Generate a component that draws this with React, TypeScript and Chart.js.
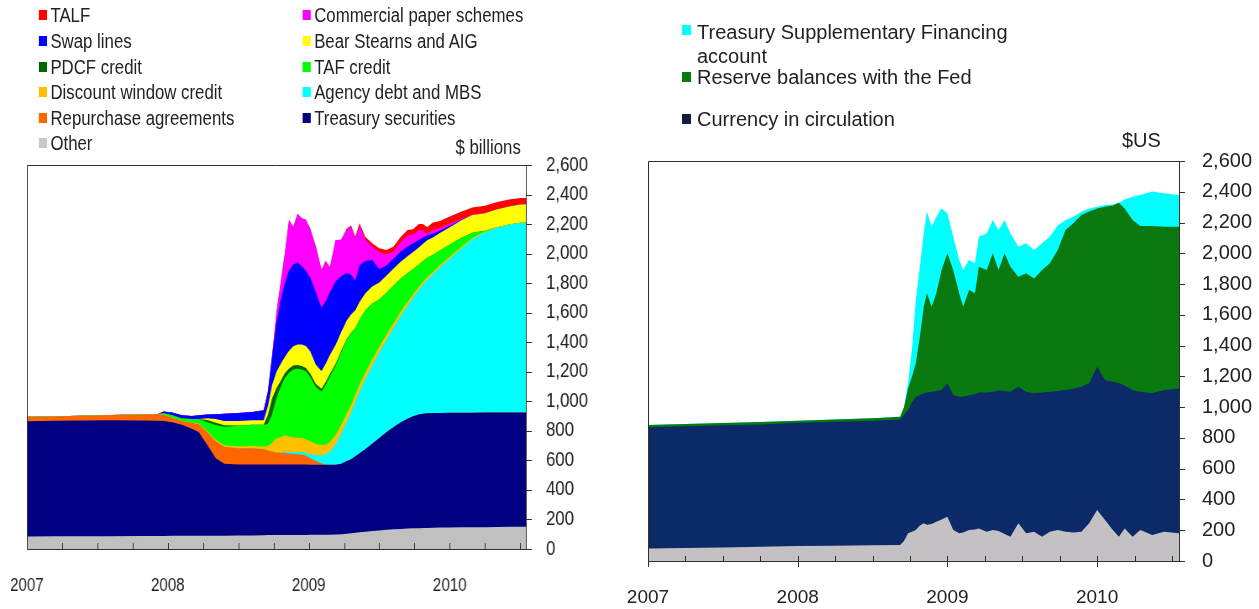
import React, { useEffect, useRef } from 'react';
import { Chart, registerables } from 'chart.js';

Chart.register(...registerables);

const FONT = '"Liberation Sans", Arial, Helvetica, sans-serif';
const LEFT_SCALE = 0.84;

// ---------------- Left panel: Fed assets ($ billions) ----------------
const LEFT_DATES = [2007.0, 2007.2, 2007.4, 2007.6, 2007.8, 2007.93, 2007.97, 2008.03, 2008.1, 2008.17, 2008.22, 2008.28, 2008.34, 2008.4, 2008.5, 2008.6, 2008.68, 2008.71, 2008.74, 2008.77, 2008.8, 2008.83, 2008.86, 2008.89, 2008.92, 2008.95, 2008.98, 2009.01, 2009.05, 2009.09, 2009.12, 2009.15, 2009.19, 2009.23, 2009.27, 2009.3, 2009.33, 2009.36, 2009.4, 2009.45, 2009.5, 2009.55, 2009.6, 2009.65, 2009.7, 2009.74, 2009.78, 2009.81, 2009.84, 2009.88, 2009.93, 2010.0, 2010.08, 2010.16, 2010.25, 2010.33, 2010.42, 2010.5, 2010.54];

const OTHER = [85, 86, 86, 87, 88, 88, 88, 89, 89, 89, 90, 90, 90, 90, 91, 92, 93, 94, 94, 95, 95, 95, 95, 95, 95, 95, 95, 96, 96, 96, 96, 97, 98, 100, 103, 106, 110, 113, 117, 122, 126, 130, 133, 136, 138, 140, 141, 142, 143, 144, 145, 146, 147, 148, 148, 149, 150, 150, 150];
const TREASURY = [780, 782, 784, 785, 782, 781, 778, 769, 753, 726, 700, 615, 525, 488, 481, 480, 479, 478, 478, 477, 477, 477, 477, 477, 477, 477, 477, 475, 475, 474, 474, 473, 472, 478, 492, 502, 518, 535, 558, 590, 626, 660, 692, 720, 744, 758, 769, 774, 776, 776, 776, 776, 776, 775, 776, 775, 775, 775, 775];
const REPO = [30, 30, 32, 35, 40, 45, 42, 30, 25, 40, 55, 85, 115, 115, 110, 110, 105, 95, 88, 82, 80, 80, 75, 73, 70, 68, 60, 45, 25, 10, 0, 0, 0, 0, 0, 0, 0, 0, 0, 0, 0, 0, 0, 0, 0, 0, 0, 0, 0, 0, 0, 0, 0, 0, 0, 0, 0, 0, 0];
const AGENCY = [0, 0, 0, 0, 0, 0, 0, 0, 0, 0, 0, 0, 0, 0, 0, 0, 0, 0, 0, 0, 0, 8, 10, 12, 14, 16, 18, 25, 40, 55, 70, 90, 140, 205, 270, 315, 370, 420, 475, 530, 580, 625, 670, 720, 765, 805, 845, 875, 905, 940, 985, 1045, 1110, 1175, 1220, 1250, 1270, 1282, 1283];
const DISCOUNT = [0, 0, 0, 0, 0, 0, 1, 2, 2, 3, 5, 8, 10, 10, 12, 15, 15, 30, 60, 95, 105, 110, 105, 100, 98, 95, 92, 88, 75, 70, 68, 65, 62, 58, 54, 50, 48, 46, 44, 40, 38, 35, 32, 28, 25, 22, 20, 19, 18, 16, 15, 14, 12, 8, 5, 3, 2, 2, 2];
const TAF = [0, 0, 0, 0, 0, 0, 10, 15, 15, 22, 30, 60, 100, 125, 140, 145, 150, 150, 190, 270, 340, 388, 432, 459, 467, 464, 461, 438, 387, 361, 404, 444, 468, 490, 500, 490, 450, 440, 420, 380, 320, 285, 255, 225, 195, 170, 150, 140, 130, 115, 100, 80, 60, 35, 5, 0, 0, 0, 0];
const PDCF = [0, 0, 0, 0, 0, 0, 0, 0, 0, 0, 0, 15, 15, 10, 3, 0, 0, 60, 110, 70, 40, 32, 28, 26, 25, 24, 23, 22, 20, 19, 18, 16, 12, 10, 5, 2, 0, 0, 0, 0, 0, 0, 0, 0, 0, 0, 0, 0, 0, 0, 0, 0, 0, 0, 0, 0, 0, 0, 0];
const BEAR_AIG = [0, 0, 0, 0, 0, 0, 0, 0, 0, 0, 0, 12, 25, 29, 29, 29, 29, 60, 90, 110, 115, 110, 120, 130, 138, 145, 148, 150, 130, 120, 125, 128, 130, 128, 125, 122, 120, 118, 116, 115, 115, 115, 115, 115, 116, 116, 117, 117, 118, 118, 118, 118, 119, 120, 120, 121, 122, 123, 124];
const SWAP = [0, 0, 0, 0, 0, 0, 12, 20, 21, 20, 25, 25, 32, 48, 54, 57, 69, 100, 200, 330, 430, 500, 545, 555, 555, 530, 510, 500, 490, 430, 420, 425, 430, 380, 320, 270, 200, 250, 220, 180, 90, 70, 68, 68, 66, 58, 50, 42, 35, 25, 15, 10, 3, 0, 0, 0, 0, 0, 0];
const CP = [0, 0, 0, 0, 0, 0, 0, 0, 0, 0, 0, 0, 0, 0, 0, 0, 0, 0, 0, 70, 120, 200, 343, 253, 331, 326, 346, 331, 312, 255, 275, 172, 278, 243, 296, 325, 287, 268, 145, 90, 114, 74, 50, 64, 75, 58, 68, 49, 10, 30, 20, 15, 8, 3, 0, 0, 0, 0, 0];
const TALF = [0, 0, 0, 0, 0, 0, 0, 0, 0, 0, 0, 0, 0, 0, 0, 0, 0, 0, 0, 0, 0, 0, 0, 0, 0, 0, 0, 0, 0, 0, 0, 0, 0, 3, 5, 8, 12, 15, 20, 23, 27, 30, 32, 34, 36, 38, 40, 42, 44, 46, 47, 48, 48, 48, 50, 50, 48, 45, 42];

// ---------------- Right panel: Fed liabilities ----------------
const RIGHT_DATES = [2007.0, 2007.25, 2007.5, 2007.75, 2008.0, 2008.25, 2008.5, 2008.684, 2008.71, 2008.737, 2008.763, 2008.789, 2008.816, 2008.842, 2008.863, 2008.895, 2008.926, 2008.961, 2009.0, 2009.039, 2009.079, 2009.105, 2009.145, 2009.184, 2009.21, 2009.263, 2009.303, 2009.342, 2009.382, 2009.421, 2009.474, 2009.526, 2009.579, 2009.632, 2009.684, 2009.737, 2009.789, 2009.842, 2009.895, 2009.947, 2010.0, 2010.053, 2010.105, 2010.145, 2010.184, 2010.237, 2010.289, 2010.368, 2010.447, 2010.547];

const R_OTHER = [82, 85, 88, 92, 97, 99, 102, 104, 130, 180, 190, 201, 230, 245, 235, 240, 255, 270, 288, 201, 180, 185, 201, 205, 212, 190, 201, 195, 175, 158, 245, 180, 190, 158, 190, 201, 190, 185, 190, 245, 331, 266, 201, 158, 212, 158, 201, 169, 190, 180];
const R_CURRENCY = [788, 791, 794, 796, 801, 806, 810, 816, 820, 801, 840, 867, 850, 845, 860, 860, 850, 841, 867, 878, 888, 883, 874, 880, 883, 905, 899, 915, 930, 942, 888, 920, 900, 937, 910, 904, 921, 935, 945, 910, 932, 910, 964, 997, 928, 953, 899, 921, 921, 942];
const R_RESERVES = [14, 14, 15, 15, 14, 15, 16, 18, 50, 139, 168, 217, 378, 563, 645, 553, 635, 780, 845, 812, 672, 585, 686, 655, 818, 796, 900, 781, 895, 813, 715, 770, 747, 796, 835, 916, 1040, 1075, 1114, 1116, 1029, 1127, 1145, 1174, 1152, 1105, 1077, 1087, 1062, 1051];
const R_SFA = [0, 0, 0, 0, 0, 0, 0, 0, 0, 35, 173, 411, 455, 477, 531, 520, 498, 401, 260, 217, 216, 238, 195, 195, 195, 239, 216, 260, 216, 217, 195, 195, 184, 174, 175, 159, 65, 43, 21, 21, 11, 11, 8, 0, 58, 152, 202, 224, 217, 206];

const Y_MAX = 2600;
const Y_STEP = 200;

type Series = { label: string; data: number[]; color: string };

const LEFT_SERIES: Series[] = [
  { label: 'Other', data: OTHER, color: '#c0c0c0' },
  { label: 'Treasury securities', data: TREASURY, color: '#000080' },
  { label: 'Repurchase agreements', data: REPO, color: '#ff6600' },
  { label: 'Agency debt and MBS', data: AGENCY, color: '#00ffff' },
  { label: 'Discount window credit', data: DISCOUNT, color: '#ffc000' },
  { label: 'TAF credit', data: TAF, color: '#00ff00' },
  { label: 'PDCF credit', data: PDCF, color: '#006600' },
  { label: 'Bear Stearns and AIG', data: BEAR_AIG, color: '#ffff00' },
  { label: 'Swap lines', data: SWAP, color: '#0000ff' },
  { label: 'Commercial paper schemes', data: CP, color: '#ff00ff' },
  { label: 'TALF', data: TALF, color: '#ff0000' },
];

const LEFT_LEGEND_COL1 = ['TALF', 'Swap lines', 'PDCF credit', 'Discount window credit', 'Repurchase agreements', 'Other'];
const LEFT_LEGEND_COL2 = ['Commercial paper schemes', 'Bear Stearns and AIG', 'TAF credit', 'Agency debt and MBS', 'Treasury securities'];

const RIGHT_SERIES: Series[] = [
  { label: 'Other liabilities', data: R_OTHER, color: '#c4c1c4' },
  { label: 'Currency in circulation', data: R_CURRENCY, color: '#0c2a68' },
  { label: 'Reserve balances with the Fed', data: R_RESERVES, color: '#0a7a10' },
  { label: 'Treasury Supplementary Financing account', data: R_SFA, color: '#00ffff' },
];

type TickOpts = { yOut: number; xIn: number; xOutMajor: number };

function frameTicksPlugin(t: TickOpts) {
  return {
    id: 'frameTicks',
    afterDatasetsDraw(chart: any) {
      const { ctx, chartArea: a, scales } = chart;
      ctx.save();
      ctx.strokeStyle = '#303030';
      ctx.lineWidth = 1;
      ctx.beginPath();
      ctx.rect(a.left + 0.5, a.top + 0.5, a.right - a.left, a.bottom - a.top);
      ctx.stroke();
      ctx.beginPath();
      scales.y.ticks.forEach((tk: any) => {
        const y = Math.round(scales.y.getPixelForValue(tk.value)) + 0.5;
        ctx.moveTo(a.right, y);
        ctx.lineTo(a.right + t.yOut, y);
      });
      scales.x.ticks.forEach((tk: any) => {
        const x = Math.round(scales.x.getPixelForValue(tk.value)) + 0.5;
        const major = Number.isInteger(tk.value);
        ctx.moveTo(x, a.bottom - t.xIn);
        ctx.lineTo(x, a.bottom + (major ? t.xOutMajor : 0));
      });
      ctx.stroke();
      ctx.restore();
    },
  };
}

type CfgOpts = {
  dates: number[];
  series: Series[];
  xMax: number;
  xFont: number;
  xPad: number;
  yPad: number;
  yAxisW: number;
  xAxisH: number;
  padding: { left: number; top: number; right: number; bottom: number };
  ticks: TickOpts;
};

function buildConfig(o: CfgOpts): any {
  return {
    type: 'line',
    data: {
      datasets: o.series.map((s) => ({
        label: s.label,
        data: o.dates.map((d, i) => ({ x: d, y: s.data[i] })),
        backgroundColor: s.color,
        borderColor: s.color,
        borderWidth: 0,
        pointRadius: 0,
        pointHoverRadius: 0,
        fill: 'origin',
        tension: 0,
      })),
    },
    options: {
      animation: false,
      responsive: false,
      devicePixelRatio: 1,
      events: [],
      layout: { padding: o.padding },
      plugins: { legend: { display: false }, tooltip: { enabled: false }, title: { display: false } },
      scales: {
        x: {
          type: 'linear',
          min: 2007,
          max: o.xMax,
          grid: { display: false, drawTicks: false },
          border: { display: false },
          ticks: {
            stepSize: 0.25,
            autoSkip: false,
            maxRotation: 0,
            minRotation: 0,
            includeBounds: false,
            padding: o.xPad,
            color: '#222222',
            font: { family: FONT, size: o.xFont },
            callback: (v: number) => (Number.isInteger(v) ? String(v) : ''),
          },
          afterFit: (s: any) => {
            s.height = o.xAxisH;
            s.paddingLeft = 0;
            s.paddingRight = 0;
          },
        },
        y: {
          position: 'right',
          stacked: true,
          min: 0,
          max: Y_MAX,
          grid: { display: false, drawTicks: false },
          border: { display: false },
          ticks: {
            stepSize: Y_STEP,
            padding: o.yPad,
            color: '#222222',
            font: { family: FONT, size: 20 },
            callback: (v: number) => Number(v).toLocaleString('en-US'),
          },
          afterFit: (s: any) => {
            s.width = o.yAxisW;
            s.paddingTop = 0;
            s.paddingBottom = 0;
          },
        },
      },
    },
    plugins: [frameTicksPlugin(o.ticks)],
  };
}

function ChartCanvas(props: { make: () => any; left: number; top: number; width: number; height: number }) {
  const ref = useRef<HTMLCanvasElement | null>(null);
  useEffect(() => {
    if (!ref.current) return;
    const chart = new Chart(ref.current, props.make());
    return () => chart.destroy();
  }, []);
  return (
    <canvas
      ref={ref}
      width={props.width}
      height={props.height}
      style={{ position: 'absolute', left: props.left, top: props.top, width: props.width, height: props.height }}
    />
  );
}

const colorOf = (list: Series[], label: string) => (list.find((s) => s.label === label) || { color: '#000' }).color;

const textStyle: React.CSSProperties = {
  position: 'absolute',
  fontFamily: FONT,
  fontSize: 20,
  lineHeight: '24px',
  color: '#222',
  whiteSpace: 'nowrap',
};

function Swatch(props: { left: number; cy: number; color: string; w: number }) {
  return (
    <div
      style={{ position: 'absolute', left: props.left, top: props.cy - 5, width: props.w, height: 10, background: props.color }}
    />
  );
}

const LEFT_ROWS = [15, 41, 67, 92, 118, 143];

export default function App() {
  const leftW = 640 / LEFT_SCALE;
  return (
    <div
      style={{
        position: 'fixed',
        left: 0,
        top: 0,
        width: 1259,
        height: 609,
        background: '#ffffff',
        overflow: 'hidden',
      }}
    >
      {/* Left panel, drawn wider and compressed horizontally like the source image */}
      <div
        style={{
          position: 'absolute',
          left: 0,
          top: 0,
          width: leftW,
          height: 609,
          transform: `scaleX(${LEFT_SCALE})`,
          transformOrigin: '0 0',
        }}
      >
        <ChartCanvas
          left={0}
          top={0}
          width={714}
          height={609}
          make={() =>
            buildConfig({
              dates: LEFT_DATES,
              series: LEFT_SERIES,
              xMax: 2010.54,
              xFont: 18,
              xPad: 26,
              yPad: 24,
              yAxisW: 88,
              xAxisH: 60,
              padding: { left: 32, top: 165, right: 0, bottom: 0 },
              ticks: { yOut: 7, xIn: 6, xOutMajor: 0 },
            })
          }
        />
        {LEFT_LEGEND_COL1.map((lab, i) => (
          <React.Fragment key={'l1' + lab}>
            <Swatch left={46} cy={LEFT_ROWS[i]} color={lab === 'Other' ? '#c8c8c8' : colorOf(LEFT_SERIES, lab)} w={10} />
            <div style={{ ...textStyle, left: 60, top: LEFT_ROWS[i] - 12 }}>{lab}</div>
          </React.Fragment>
        ))}
        {LEFT_LEGEND_COL2.map((lab, i) => (
          <React.Fragment key={'l2' + lab}>
            <Swatch left={360} cy={LEFT_ROWS[i]} color={colorOf(LEFT_SERIES, lab)} w={10} />
            <div style={{ ...textStyle, left: 374, top: LEFT_ROWS[i] - 12 }}>{lab}</div>
          </React.Fragment>
        ))}
        <div style={{ ...textStyle, right: leftW - 620, top: 135, textAlign: 'right' }}>$ billions</div>
      </div>

      {/* Right panel */}
      <ChartCanvas
        left={600}
        top={0}
        width={659}
        height={609}
        make={() =>
          buildConfig({
            dates: RIGHT_DATES,
            series: RIGHT_SERIES,
            xMax: 2010.547,
            xFont: 19,
            xPad: 25,
            yPad: 23,
            yAxisW: 80,
            xAxisH: 48,
            padding: { left: 48, top: 161, right: 0, bottom: 0 },
            ticks: { yOut: 6, xIn: 5, xOutMajor: 6 },
          })
        }
      />
      <Swatch left={682} cy={30} color={colorOf(RIGHT_SERIES, 'Treasury Supplementary Financing account')} w={9} />
      <div style={{ ...textStyle, left: 697, top: 20, width: 330, whiteSpace: 'normal' }}>
        Treasury Supplementary Financing account
      </div>
      <Swatch left={682} cy={77} color={colorOf(RIGHT_SERIES, 'Reserve balances with the Fed')} w={9} />
      <div style={{ ...textStyle, left: 697, top: 65 }}>Reserve balances with the Fed</div>
      <Swatch left={682} cy={119} color="#141c44" w={9} />
      <div style={{ ...textStyle, left: 697, top: 107 }}>Currency in circulation</div>
      <div style={{ ...textStyle, left: 1122, top: 128 }}>$US</div>
    </div>
  );
}
